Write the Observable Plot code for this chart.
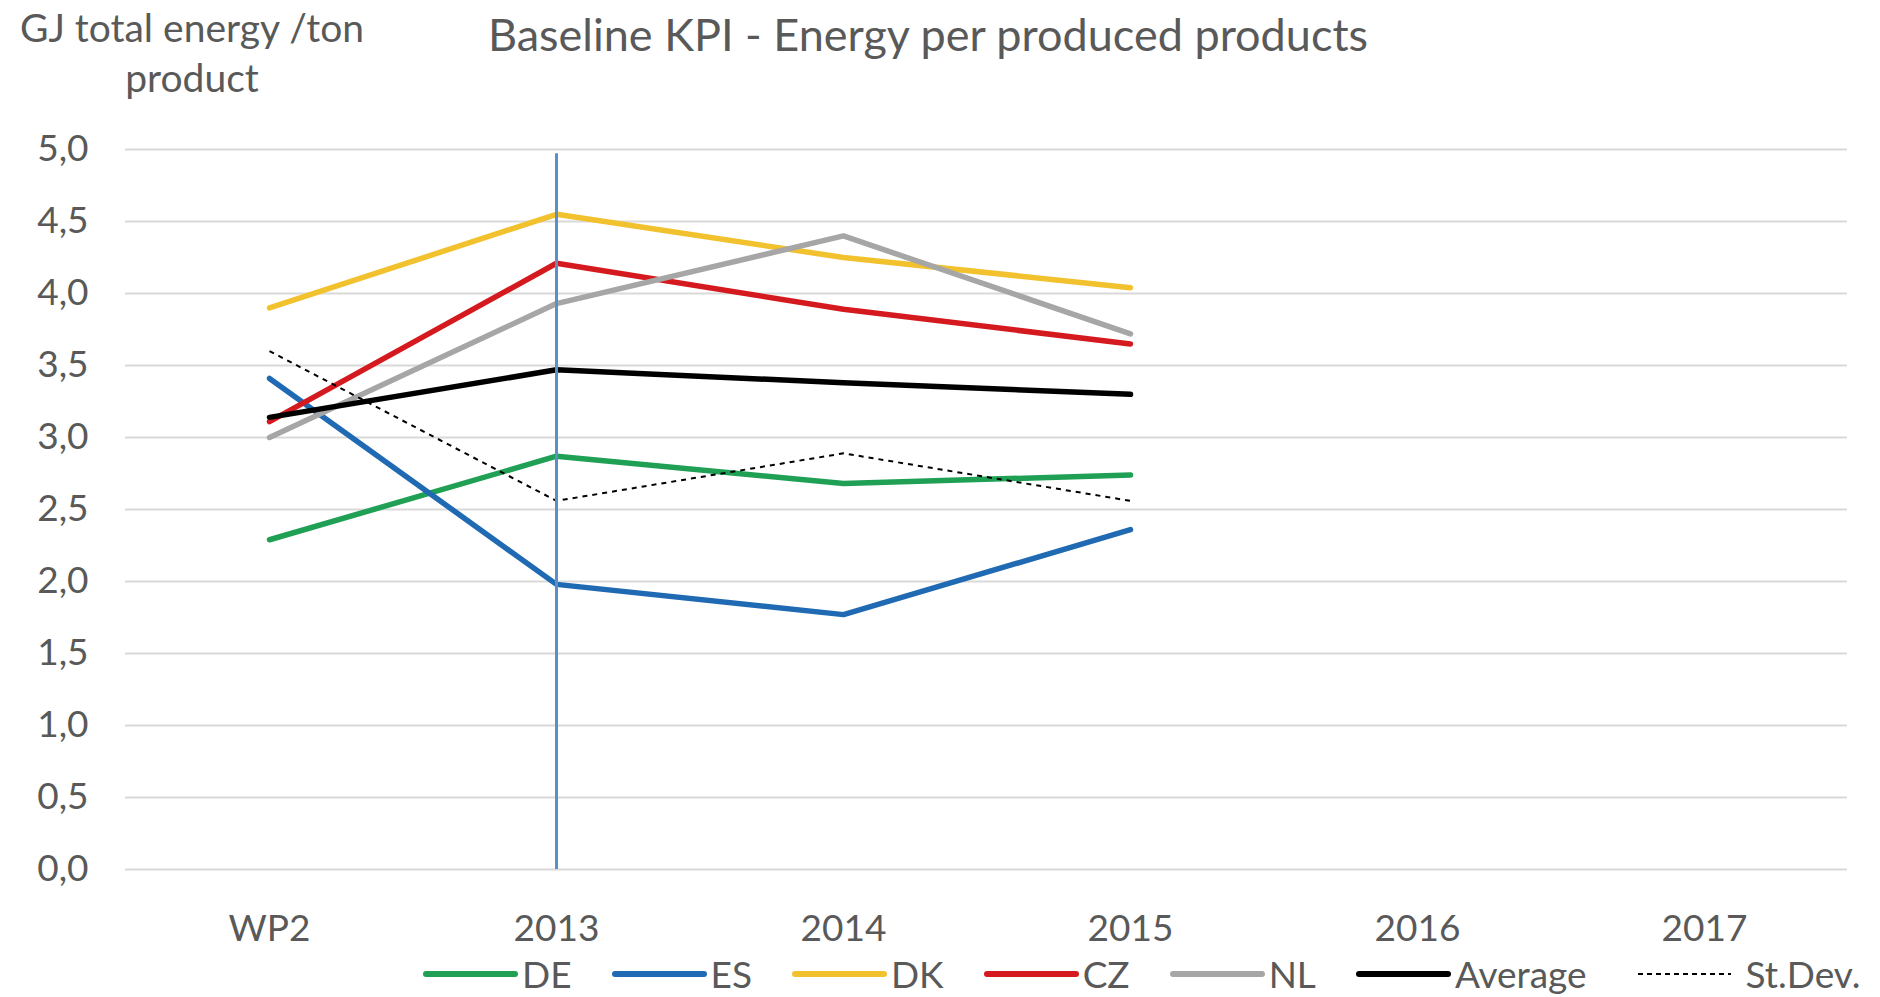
<!DOCTYPE html>
<html>
<head>
<meta charset="utf-8">
<script src="https://cdn.jsdelivr.net/npm/d3@7"></script>
<script src="https://cdn.jsdelivr.net/npm/@observablehq/plot@0.6"></script>
<style>
  html, body { margin: 0; padding: 0; background: #fff; }
  #wrap { position: relative; width: 1880px; height: 997px; font-family: Lato, "Open Sans", sans-serif; color: #595959; overflow: hidden; }
  #chart { position: absolute; left: 0; top: 0; }
  #ylab { position: absolute; left: 0; top: 2px; width: 384px; text-align: center; font-size: 39px; line-height: 50px; }
  #title { position: absolute; left: 0; top: 8px; width: 1856px; text-align: center; font-size: 45px; line-height: 52px; }
  #legend { position: absolute; left: 423px; top: 954px; display: flex; align-items: center; font-size: 37px; line-height: 40px; }
  .item { display: flex; align-items: center; margin-right: 40px; }
  .item svg { display: block; }
  .item span { margin-left: 4px; }
</style>
</head>
<body>
<div id="wrap">
  <div id="chart"></div>
  <div id="ylab"></div>
  <div id="title"></div>
  <div id="legend"></div>
</div>
<script>
// ---- data ----
const chartTitle = "Baseline KPI - Energy per produced products";
const yLabelLines = ["GJ total energy /ton", "product"];
const categories = ["WP2", "2013", "2014", "2015", "2016", "2017"];
const periods = ["WP2", "2013", "2014", "2015"];
const yTicks = [0, 0.5, 1, 1.5, 2, 2.5, 3, 3.5, 4, 4.5, 5];

const DE = [2.29, 2.87, 2.68, 2.74];
const ES = [3.41, 1.98, 1.77, 2.36];
const DK = [3.90, 4.55, 4.25, 4.04];
const CZ = [3.11, 4.21, 3.89, 3.65];
const NL = [3.00, 3.93, 4.40, 3.72];
const Average = [3.14, 3.47, 3.38, 3.30];
const StDev = [3.60, 2.56, 2.89, 2.56];

const seriesNames = ["DE", "ES", "DK", "CZ", "NL", "Average", "St.Dev."];
const seriesValues = [DE, ES, DK, CZ, NL, Average, StDev];

const markerCategory = ["2013"];
const markerTop = [4.97];

// ---- styles ----
const seriesColors = ["#1fa055", "#1f6ab2", "#f2c12e", "#d51a1f", "#a6a6a6", "#000000", "#000000"];
const seriesWidths = [5.5, 5.5, 5.5, 5.5, 5.5, 5.5, 2];
const seriesDash = [null, null, null, null, null, null, "5,5"];

// ---- build tidy table ----
const rows = [];
seriesNames.forEach((name, i) => {
  periods.forEach((p, j) => rows.push({series: name, period: p, value: seriesValues[i][j]}));
});
const markerRows = markerCategory.map((c, i) => ({period: c, y1: 0, y2: markerTop[i]}));

const fmt = d => d.toFixed(1).replace(".", ",");

const lineMarks = seriesNames.map((name, i) =>
  Plot.line(rows.filter(r => r.series === name), {
    x: "period", y: "value",
    stroke: seriesColors[i], strokeWidth: seriesWidths[i],
    strokeDasharray: seriesDash[i] ?? undefined,
    strokeLinejoin: "round", strokeLinecap: i === 6 ? "butt" : "round"
  })
);

const chart = Plot.plot({
  width: 1880, height: 997,
  marginLeft: 125, marginRight: 33, marginTop: 149, marginBottom: 128,
  x: {type: "point", domain: categories, padding: 0.5},
  y: {domain: [0, 5]},
  style: {fontFamily: "Lato, 'Open Sans', sans-serif", fontSize: "37px", color: "#595959", background: "transparent"},
  marks: [
    Plot.gridY(yTicks, {stroke: "#d9d9d9", strokeOpacity: 1, strokeWidth: 2}),
    Plot.axisY(yTicks, {tickFormat: fmt, tickSize: 0, tickPadding: 37, label: null, fill: "#595959"}),
    Plot.axisX(categories, {tickSize: 0, tickPadding: 45, label: null, fill: "#595959"}),
    ...lineMarks,
    Plot.ruleX(markerRows, {x: "period", y1: "y1", y2: "y2", stroke: "#5a8fc8", strokeWidth: 3})
  ]
});
document.getElementById("chart").appendChild(chart);

document.getElementById("title").textContent = chartTitle;
document.getElementById("ylab").innerHTML = yLabelLines.join("<br>");

const legend = document.getElementById("legend");
seriesNames.forEach((name, i) => {
  const item = document.createElement("div");
  item.className = "item";
  const w = 95;
  const dash = seriesDash[i] ? `stroke-dasharray="${i === 6 ? '5,4' : seriesDash[i]}"` : "";
  const sw = i === 6 ? 2 : 6;
  item.innerHTML = `<svg width="${w}" height="10"><line x1="${sw/2}" x2="${w - sw/2}" y1="5" y2="5" stroke="${seriesColors[i]}" stroke-width="${sw}" stroke-linecap="${i === 6 ? 'butt' : 'round'}" ${dash}></line></svg><span>${name}</span>`;
  if (i === 5) item.style.marginRight = "50px";
  if (i === 6) item.querySelector("span").style.marginLeft = "14px";
  legend.appendChild(item);
});
</script>
</body>
</html>
